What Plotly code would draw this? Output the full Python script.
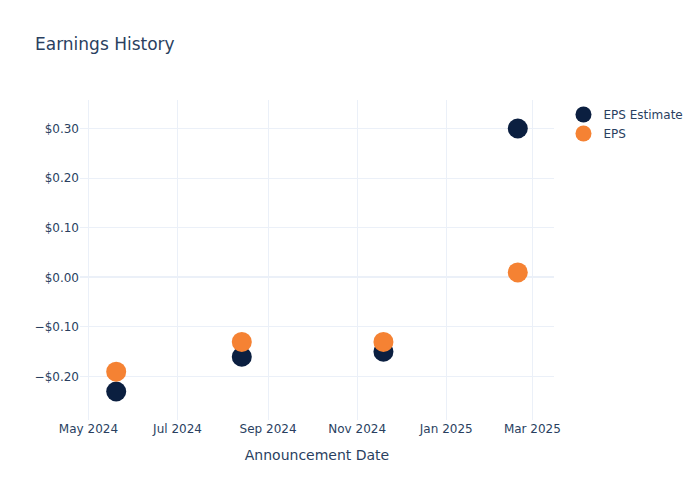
import plotly.graph_objects as go

# Announcement dates and EPS values
dates = ["2024-05-20", "2024-08-14", "2024-11-19", "2025-02-19"]
eps_estimate = [-0.23, -0.16, -0.15, 0.30]
eps_actual = [-0.19, -0.13, -0.13, 0.01]

NAVY = "#0b1f40"
ORANGE = "#f58233"

fig = go.Figure()
fig.add_trace(go.Scatter(
    x=dates, y=eps_estimate, mode="markers", name="EPS Estimate",
    marker=dict(color=NAVY, size=20),
))
fig.add_trace(go.Scatter(
    x=dates, y=eps_actual, mode="markers", name="EPS",
    marker=dict(color=ORANGE, size=20),
))

fig.update_layout(
    template="plotly_white",
    width=700,
    height=500,
    font=dict(family="DejaVu Sans"),
    title=dict(text="Earnings History"),
    xaxis=dict(title=dict(text="Announcement Date"), dtick="M2", tickformat="%b %Y"),
    yaxis=dict(tickformat="$.2f", dtick=0.1),
)

# page body has an 8px default margin; the reference figure sits at the top-left corner
fig.write_html(
    "out.html",
    config={"displayModeBar": False},
    post_script="document.body.style.margin = '0';",
)
